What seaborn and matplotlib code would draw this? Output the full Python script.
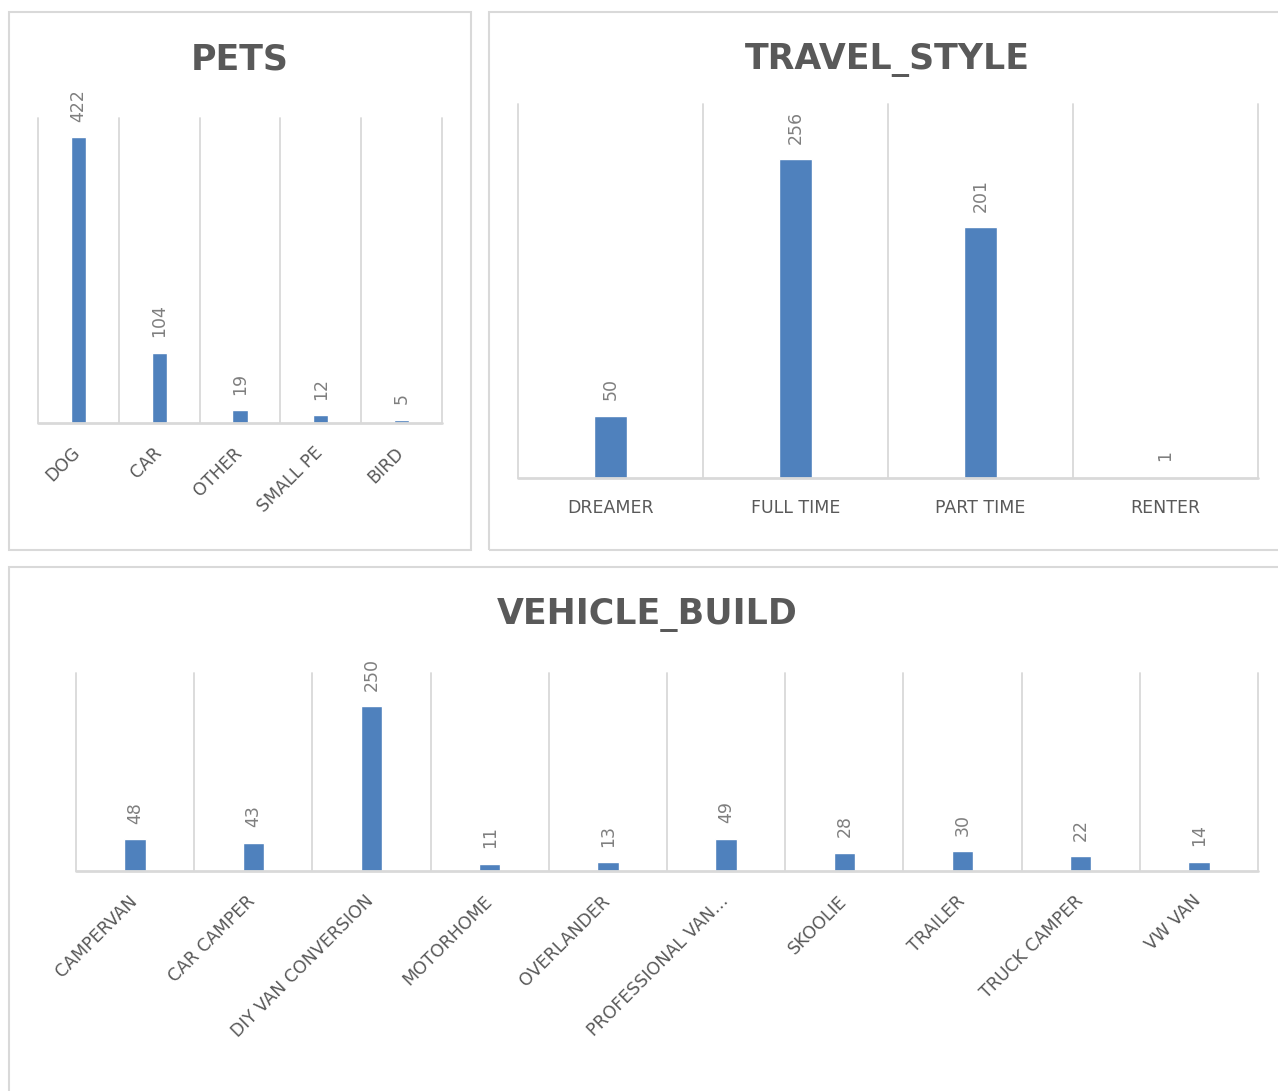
import matplotlib
matplotlib.use("Agg")
import matplotlib.pyplot as plt
import matplotlib.transforms as mtransforms
import seaborn as sns
import pandas as pd
from matplotlib.patches import Rectangle

# ---- data ----
pets_categories = ["DOG", "CAR", "OTHER", "SMALL PE", "BIRD"]
pets_values = [422, 104, 19, 12, 5]

travel_categories = ["DREAMER", "FULL TIME", "PART TIME", "RENTER"]
travel_values = [50, 256, 201, 1]

vehicle_categories = ["CAMPERVAN", "CAR CAMPER", "DIY VAN CONVERSION", "MOTORHOME",
                      "OVERLANDER", "PROFESSIONAL VAN…", "SKOOLIE", "TRAILER",
                      "TRUCK CAMPER", "VW VAN"]
vehicle_values = [48, 43, 250, 11, 13, 49, 28, 30, 22, 14]

titles = ["PETS", "TRAVEL_STYLE", "VEHICLE_BUILD"]

# ---- style ----
sns.set_theme(style="white")
plt.rcParams['font.family'] = ['DejaVu Sans']

BLUE = "#4F81BD"
GRID = "#D9D9D9"
AXIS = "#D9D9D9"
TEXT = "#595959"
LABEL = "#7F7F7F"

W, H = 1278, 1091
fig = plt.figure(figsize=(W / 100, H / 100), dpi=100)
fig.patch.set_facecolor("white")


def px_rect(x0, y0, x1, y1):
    return [x0 / W, 1 - y1 / H, (x1 - x0) / W, (y1 - y0) / H]


def box(x0, y0, x1, y1):
    r = Rectangle((x0 / W, 1 - y1 / H), (x1 - x0) / W, (y1 - y0) / H,
                  transform=fig.transFigure, fill=False, ec=GRID, lw=1.5)
    fig.patches.append(r)


def panel(rect_px, cats, vals, ymax, width, rotated, pad):
    ax = fig.add_axes(px_rect(*rect_px))
    df = pd.DataFrame({"cat": cats, "val": vals})
    sns.barplot(data=df, x="cat", y="val", color=BLUE, saturation=1,
                width=width, ax=ax, zorder=2)
    n = len(cats)
    ax.set_xlim(-0.5, n - 0.5)
    ax.set_ylim(0, ymax)
    for s in ax.spines.values():
        s.set_visible(False)
    ax.set_yticks([])
    ax.set_xlabel("")
    ax.set_ylabel("")
    ax.set_facecolor("white")
    for b in range(n + 1):
        ax.axvline(b - 0.5, color=GRID, lw=1.3, zorder=0, clip_on=False)
    ax.axhline(0, color=AXIS, lw=2, zorder=3, clip_on=False)
    ax.bar_label(ax.containers[0], labels=[str(v) for v in vals], rotation=90,
                 padding=11, color=LABEL, fontsize=12.5)
    ax.tick_params(axis='x', length=0, pad=pad)
    ax.set_xticks(range(n))
    if rotated:
        ax.set_xticklabels(cats, rotation=45, ha='right', rotation_mode='anchor',
                           color=TEXT, fontsize=12.5)
        shift = mtransforms.ScaledTranslation(-7 / 100, 0, fig.dpi_scale_trans)
        for lab in ax.get_xticklabels():
            lab.set_transform(lab.get_transform() + shift)
    else:
        ax.set_xticklabels(cats, color=TEXT, fontsize=12.5)
    return ax


# panel borders
box(9, 12, 471, 550)
box(489, 12, 1300, 550)
box(9, 567, 1300, 1120)

panel((38, 118, 442, 423), pets_categories, pets_values, 450, 0.19, True, 15)
panel((518, 104, 1258, 478), travel_categories, travel_values, 300, 0.18, False, 15)
panel((76, 673, 1258, 871), vehicle_categories, vehicle_values, 300, 0.18, True, 15)

for txt, (tx, ty) in zip(titles, [(240, 60), (887, 60), (647, 615)]):
    fig.text(tx / W, 1 - ty / H, txt, ha='center', va='center',
             fontsize=25, fontweight='bold', color=TEXT)

fig.savefig("out.png", dpi=100, facecolor="white")
